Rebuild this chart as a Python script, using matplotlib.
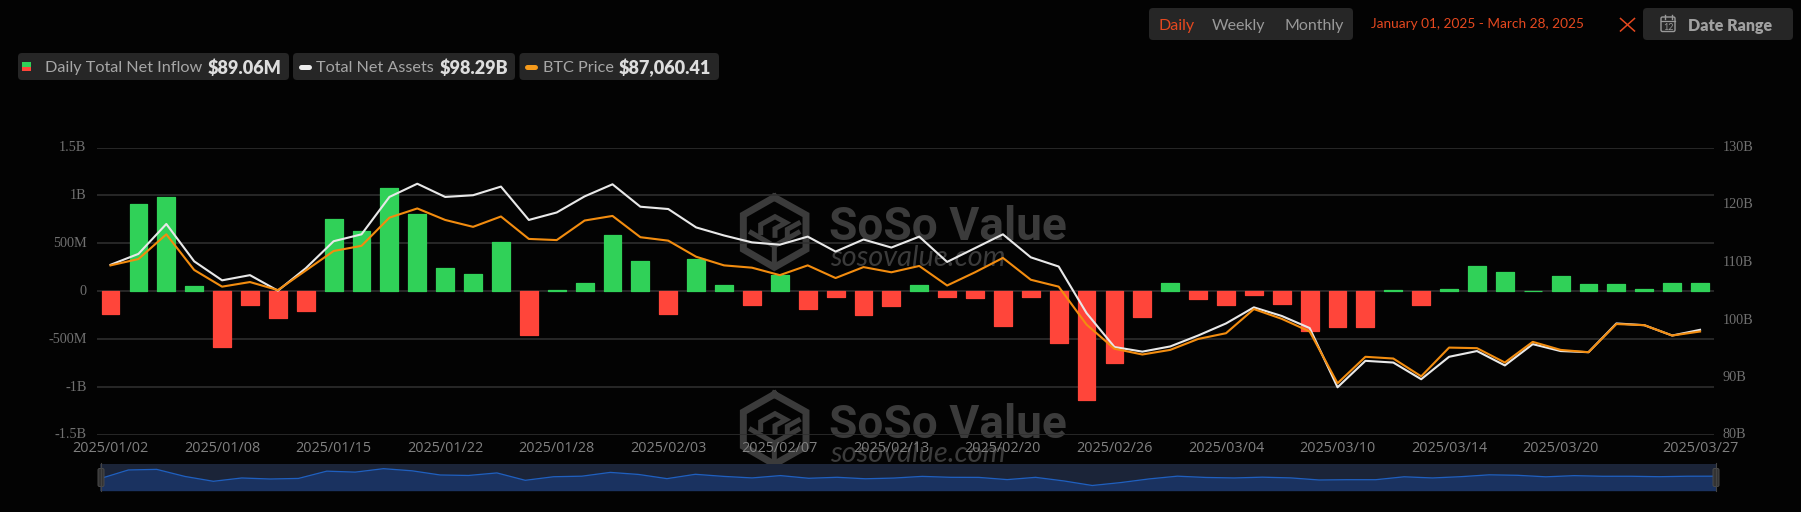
import matplotlib
matplotlib.use("Agg")
import matplotlib.pyplot as plt
from matplotlib.patches import FancyBboxPatch, Rectangle
from matplotlib.transforms import ScaledTranslation

W, H = 1801, 512

dates = ["2025/01/02","2025/01/03","2025/01/06","2025/01/07","2025/01/08","2025/01/10","2025/01/13","2025/01/14",
         "2025/01/15","2025/01/16","2025/01/17","2025/01/21","2025/01/22","2025/01/23","2025/01/24","2025/01/27",
         "2025/01/28","2025/01/29","2025/01/30","2025/01/31","2025/02/03","2025/02/04","2025/02/05","2025/02/06",
         "2025/02/07","2025/02/10","2025/02/11","2025/02/12","2025/02/13","2025/02/14","2025/02/18","2025/02/19",
         "2025/02/20","2025/02/21","2025/02/24","2025/02/25","2025/02/26","2025/02/27","2025/02/28","2025/03/03",
         "2025/03/04","2025/03/05","2025/03/06","2025/03/07","2025/03/10","2025/03/11","2025/03/12","2025/03/13",
         "2025/03/14","2025/03/17","2025/03/18","2025/03/19","2025/03/20","2025/03/21","2025/03/24","2025/03/25",
         "2025/03/26","2025/03/27"]

net_inflow_m = [-237, 906, 986, 52, -582, -146, -282, -206, 752, 624, 1077, 801, 247, 185, 519, -453, 17, 90, 589, 317,
                -233, 338, 63, -139, 167, -185, -56, -251, -157, 63, -59, -70, -362, -63, -537, -1136, -753, -272, 91, -77,
                -143, -42, -136, -411, -373, -373, 10, -143, 24, 268, 206, 7, 160, 77, 80, 21, 84, 89]

net_assets_b = [109.6, 111.5, 116.7, 110.2, 106.9, 107.8, 105.1, 109.0, 113.7, 114.9, 121.4, 123.7, 121.4, 121.7, 123.2,
                117.4, 118.7, 121.5, 123.6, 119.7, 119.3, 116.1, 114.7, 113.5, 113.1, 114.5, 111.9, 114.0, 112.6, 114.5,
                110.1, 112.5, 114.9, 110.9, 109.3, 101.2, 95.3, 94.5, 95.4, 97.3, 99.4, 102.2, 100.7, 98.6, 88.3, 92.9,
                92.6, 89.7, 93.6, 94.6, 92.1, 95.8, 94.6, 94.4, 99.4, 99.1, 97.3, 98.29]

btc_price = [96812, 97745, 101391, 96134, 93674, 94353, 93166, 96049, 98932, 99695, 103850, 105207, 103511, 102494, 104020,
             100713, 100543, 103426, 104105, 100967, 100458, 98084, 96812, 96473, 95370, 96812, 94946, 96558, 95794, 96727,
             93844, 95794, 97914, 94692, 93674, 88078, 84516, 83668, 84346, 85958, 86806, 90367, 88926, 87060, 79428, 83329,
             83074, 80446, 84686, 84601, 82481, 85534, 84346, 84007, 88162, 87993, 86466, 87060]

tick_dates = ["2025/01/02","2025/01/08","2025/01/15","2025/01/22","2025/01/28","2025/02/03","2025/02/07","2025/02/13",
              "2025/02/20","2025/02/26","2025/03/04","2025/03/10","2025/03/14","2025/03/20","2025/03/27"]
left_ticks = [-1500, -1000, -500, 0, 500, 1000, 1500]
left_labels = ["-1.5B", "-1B", "-500M", "0", "500M", "1B", "1.5B"]
right_ticks = [80, 90, 100, 110, 120, 130]
right_labels = ["80B", "90B", "100B", "110B", "120B", "130B"]

BG = "#030303"
GREEN, RED = "#30D158", "#FF453A"
WHITE, ORANGE = "#E8E8E8", "#F28C0F"
PILL = "#262626"
ACCENT = "#E5481F"
WM = "#3B3B3B"
GRID = "#2E2E2E"

def pt(px):
    return px * 0.72

fig = plt.figure(figsize=(W / 100, H / 100), dpi=100, facecolor=BG)

# pixel-space layer for the page furniture
bg = fig.add_axes([0, 0, 1, 1], zorder=0)
bg.set_xlim(0, W); bg.set_ylim(H, 0); bg.axis("off")

def txt(x, y, s, size, color, ha="left", **kw):
    bg.text(x, y, s, fontsize=pt(size), color=color, ha=ha, va="center_baseline", **kw)

def pill(x0, x1, y0, y1, r=4):
    bg.add_patch(FancyBboxPatch((x0 + r, y0 + r), x1 - x0 - 2 * r, y1 - y0 - 2 * r,
                                boxstyle=f"round,pad={r},rounding_size={r}", fc=PILL, ec="none"))

# legend pills
for a, b in [(18, 289), (293, 515), (519.5, 719)]:
    pill(a, b, 53, 80)
bg.add_patch(Rectangle((22, 62), 9, 4.7, fc=GREEN, ec="none"))
bg.add_patch(Rectangle((22, 66.7), 9, 4.5, fc=RED, ec="none"))
bg.plot([300.5, 309], [66.5, 66.5], color="#EDEDED", lw=3.6, solid_capstyle="round")
bg.plot([527, 535], [66.5, 66.5], color="#F59A1B", lw=3.6, solid_capstyle="round")
F = "Lato"
txt(45, 66.5, "Daily Total Net Inflow", 16.3, "#A6A6A6", family=F)
txt(208, 66.5, "$89.06M", 18.0, "#DDDDDD", family=F, weight="heavy")
txt(316, 66.5, "Total Net Assets", 16.3, "#A6A6A6", family=F)
txt(440, 66.5, "$98.29B", 18.0, "#DDDDDD", family=F, weight="heavy")
txt(542.5, 66.5, "BTC Price", 16.3, "#A6A6A6", family=F)
txt(619, 66.5, "$87,060.41", 18.0, "#DDDDDD", family=F, weight="heavy")

# top-right controls
pill(1149, 1353, 8, 40)
pill(1643, 1793, 8, 40)
txt(1158, 24.5, "Daily", 16, ACCENT, family=F)
txt(1212, 24.5, "Weekly", 16, "#999999", family=F)
txt(1284, 24.5, "Monthly", 16, "#999999", family=F)
txt(1371, 22.5, "January 01, 2025 - March 28, 2025", 13.6, ACCENT, family=F)
bg.plot([1620.5, 1634.5], [18.5, 31], color=ACCENT, lw=1.1)
bg.plot([1634.5, 1620.5], [18.5, 31], color=ACCENT, lw=1.1)
bg.add_patch(FancyBboxPatch((1661.5, 17.5), 13, 13.5, boxstyle="round,pad=0.5,rounding_size=1.5",
                            fc="none", ec="#999999", lw=1))
bg.plot([1661, 1675], [20.5, 20.5], color="#999999", lw=0.9)
bg.plot([1664.5, 1664.5], [15, 18.5], color="#999999", lw=1)
bg.plot([1671.5, 1671.5], [15, 18.5], color="#999999", lw=1)
txt(1668.5, 26, "12", 9, "#999999", ha="center", family=F)
txt(1688, 24.5, "Date Range", 16, "#A0A0A0", family=F, weight="heavy")

# watermarks
logo_lines = [
    [(133, 22), (228, 75), (228, 178), (133, 232), (40, 178), (40, 75), (133, 22)],
    [(92, 128), (92, 104), (135, 80), (168, 98), (135, 116), (135, 136)],
    [(64, 128), (133, 168), (133, 222)],
    [(133, 168), (204, 128)],
    [(172, 138), (172, 118), (205, 100)],
]
for dy in (0, 197):
    for seg in logo_lines:
        bg.plot([730 + p[0] / 3 for p in seg], [190 + dy + p[1] / 3 for p in seg],
                color=WM, lw=5 if seg is logo_lines[0] else 3.6, solid_joinstyle="miter")
    txt(829, 223 + dy, "SoSo Value", 46, WM, family="Roboto", weight="bold")
    txt(830, 255 + dy, "sosovalue.com", 29, WM, family="Lato", style="italic")

# main chart: bars on the left axis
L, R, T, B = 96.6, 1714, 147.5, 435
ax = fig.add_axes([L / W, 1 - B / H, (R - L) / W, (B - T) / H], zorder=1)
ax.patch.set_visible(False)
x = list(range(len(dates)))
ax.set_xlim(-0.5, len(dates) - 0.5)
ax.set_ylim(left_ticks[0], left_ticks[-1])
ax.grid(axis="y", color=GRID, lw=1.2, zorder=0)
ax.set_axisbelow(True)
ax.bar(x, net_inflow_m, width=0.64, color=[GREEN if v >= 0 else RED for v in net_inflow_m],
       edgecolor=[GREEN if v >= 0 else RED for v in net_inflow_m], lw=0.9, joinstyle="round", zorder=2)
ax.set_yticks(left_ticks, left_labels, family="Liberation Serif", fontsize=pt(14.2), color="#707070")
ax.set_xticks([dates.index(d) for d in tick_dates], tick_dates, family="Open Sans", fontsize=pt(14.4), color="#808080")
ax.tick_params(axis="y", length=0, pad=pt(10))
ax.tick_params(axis="x", length=0, pad=pt(6))
for s in ax.spines.values():
    s.set_visible(False)

# net assets on the right axis
ax2 = ax.twinx()
ax2.set_zorder(2); ax2.patch.set_visible(False)
ax2.set_ylim(right_ticks[0], right_ticks[-1])
ax2.plot(x, net_assets_b, color=WHITE, lw=pt(2.1), solid_joinstyle="round")
ax2.set_yticks(right_ticks, right_labels, family="Liberation Serif", fontsize=pt(14.2), color="#707070")
ax2.tick_params(axis="y", length=0, pad=pt(8.5))
for s in ax2.spines.values():
    s.set_visible(False)

# lift the value-axis labels slightly, as in the reference
lift = ScaledTranslation(0, 1.5 / 100, fig.dpi_scale_trans)
for lab in ax.get_yticklabels():
    lab.set_transform(lab.get_transform() + lift)
for lab in ax2.get_yticklabels():
    lab.set_transform(lab.get_transform() + lift)

# BTC price on a hidden axis
ax3 = ax.twinx()
ax3.set_zorder(3); ax3.patch.set_visible(False)
ax3.set_ylim(71796, 114196)
ax3.plot(x, btc_price, color=ORANGE, lw=pt(2.1), solid_joinstyle="round")
ax3.axis("off")

# range slider overview
mL, mR, mT, mB = 100, 1716, 463.5, 490.7
mini = fig.add_axes([mL / W, 1 - mB / H, (mR - mL) / W, (mB - mT) / H], zorder=4)
mini.set_facecolor("#1B2438")
mini.set_xlim(0, len(dates) - 1)
mini.set_ylim(-1820, 1760)
mini.fill_between(x, net_inflow_m, -1820, color="#1A3260", lw=0)
mini.plot(x, net_inflow_m, color="#1F5FBF", lw=pt(1.3))
mini.set_xticks([]); mini.set_yticks([])
for s in mini.spines.values():
    s.set_visible(False)

top = fig.add_axes([0, 0, 1, 1], zorder=5)
top.set_xlim(0, W); top.set_ylim(H, 0); top.axis("off")
for hx in (mL + 1, mR):
    top.plot([hx, hx], [463, 491], color="#444444", lw=0.8)
    top.add_patch(FancyBboxPatch((hx - 1.5, 470), 3, 15, boxstyle="round,pad=1.5,rounding_size=1.5",
                                 fc="#333333", ec="#4A4A4A", lw=0.7))

fig.savefig("out.png", dpi=100, facecolor=BG)
